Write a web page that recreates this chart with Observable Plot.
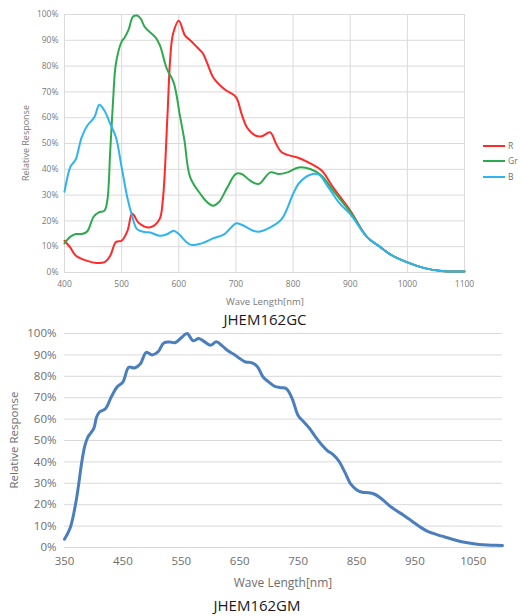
<!DOCTYPE html>
<html>
<head>
<meta charset="utf-8">
<script src="https://cdn.jsdelivr.net/npm/d3@7"></script>
<script src="https://cdn.jsdelivr.net/npm/@observablehq/plot@0.6"></script>
<style>
  html, body { margin: 0; padding: 0; background: #fff; }
  #wrap { position: relative; width: 521px; height: 616px; font-family: "Open Sans", "Liberation Sans", sans-serif; overflow: hidden; }
  .abs { position: absolute; }
  .t { position: absolute; white-space: nowrap; transform: translate(-50%, -50%); line-height: 1; }
  .leg { position: absolute; height: 2px; width: 22px; }
  .legt { position: absolute; font-size: 8.5px; color: #707070; line-height: 1; transform: translateY(-50%); }
</style>
</head>
<body>
<div id="wrap"></div>
<script>
// ---------- Top chart (JHEM162GC) data: [wavelength nm, relative response %] ----------
const seriesR = [[400,12.3],[410,9.7],[420,6.5],[440,4.5],[456,3.7],[470,4],[480,6.5],[490,11.8],[500,12.3],[510,16],[518,22.9],[522,22],[530,19.2],[550,17.5],[566,20.5],[572,28],[580,60],[585,83],[590,92.5],[600,97.6],[611,91.8],[620,90],[632,87.3],[642,85],[650,81],[660,75.7],[680,71],[700,68],[710,61.4],[720,56],[735,53],[745,52.8],[760,54.3],[770,50],[780,46.6],[800,45],[810,44.4],[830,42.3],[850,39.5],[870,33],[900,24],[930,13.6],[950,10.3],[970,7],[1000,3.9],[1030,1.7],[1060,0.6],[1100,0.4]];
const seriesGr = [[400,11.3],[410,13.8],[420,14.9],[432,15],[440,16],[451,21.6],[460,23.3],[470,24],[475,28],[480,47],[485,66.6],[490,81],[500,89.5],[505,91],[512,94],[520,99.2],[527,99.6],[533,98.5],[541,95],[559,91.2],[567,88],[579,79],[591,73.7],[602,60.8],[610,51],[620,36.9],[640,29.8],[650,27.2],[660,25.9],[670,27.2],[685,33],[700,38.2],[710,38.2],[725,35.6],[740,34.3],[760,38.8],[775,38.2],[790,38.8],[810,40.7],[830,40.1],[850,37.5],[870,31.7],[900,23.5],[930,13.6],[950,10.3],[970,7],[1000,3.9],[1030,1.7],[1060,0.6],[1100,0.4]];
const seriesB = [[400,31.3],[410,40.8],[416,42.7],[420,44],[430,52.4],[440,57],[448,59],[453,60.5],[461,65],[470,62.7],[480,57.6],[490,52.4],[500,40.8],[510,29],[518,22.2],[527,16.8],[540,15.7],[550,15.5],[567,14.2],[580,14.9],[591,16.2],[600,14.9],[620,10.8],[640,11.3],[660,13.2],[680,14.9],[700,19],[710,18.5],[730,16.2],[740,15.8],[760,17.5],[780,20.7],[800,30.4],[810,34.5],[830,37.9],[845,37.9],[860,33.6],[880,27.2],[900,22.6],[930,13.6],[950,10.3],[970,7],[1000,3.9],[1030,1.7],[1060,0.6],[1100,0.4]];
const topXTicks = [400,500,600,700,800,900,1000,1100];
const topYTicks = [0,10,20,30,40,50,60,70,80,90,100];
const legendNames = ["R","Gr","B"];
const legendColors = ["#ff2a2a","#2eaa4e","#2fb4ee"];

// ---------- Bottom chart (JHEM162GM) data ----------
const seriesM = [[350,3.9],[360,9.4],[370,21.9],[380,40.6],[385,47.7],[390,51.6],[400,55.5],[405,61],[410,63.3],[420,64.8],[430,70.3],[440,75],[450,77.3],[460,84.2],[470,83.9],[480,85.9],[490,91.2],[500,90],[510,91.4],[520,95.6],[530,96],[540,95.8],[550,98],[560,100],[570,96.6],[580,97.7],[590,96.1],[600,94.5],[610,96.1],[620,94.2],[630,91.9],[640,90.3],[650,88.3],[660,86.7],[670,86.4],[680,84.6],[690,79.7],[700,77.3],[710,75.3],[720,74.7],[730,74.2],[740,69.5],[750,61.7],[760,58.6],[770,55.5],[780,51.6],[790,48.1],[800,45.3],[810,43.4],[820,40.3],[830,35.2],[840,29.7],[850,27],[860,25.8],[870,25.6],[880,25],[890,23.4],[900,21.1],[910,18.8],[920,16.9],[930,15.2],[940,13.3],[950,11.3],[960,9.4],[970,7.8],[980,6.7],[990,5.8],[1000,5],[1020,3.4],[1040,2.2],[1060,1.4],[1080,1.1],[1100,0.9]];
const botXTicks = [350,450,550,650,750,850,950,1050];
const botYTicks = [0,10,20,30,40,50,60,70,80,90,100];

const wrap = document.getElementById("wrap");
const toObj = arr => arr.map(([w, v]) => ({w, v}));

// ---------- Top chart ----------
const topChart = Plot.plot({
  width: 521, height: 300,
  marginLeft: 64, marginRight: 57, marginTop: 14, marginBottom: 28,
  style: {fontSize: "8.5px", fontFamily: "'Open Sans', sans-serif", color: "#7a7a7a", background: "transparent", overflow: "visible"},
  x: {domain: [400, 1100]},
  y: {domain: [0, 100]},
  marks: [
    Plot.gridY(topYTicks, {stroke: "#dadada", strokeOpacity: 1, strokeWidth: 1}),
    Plot.gridX(topXTicks, {stroke: "#dadada", strokeOpacity: 1, strokeWidth: 1}),
    Plot.axisY(topYTicks, {tickSize: 0, tickPadding: 6, tickFormat: d => d + "%", label: null, fill: "#7a7a7a"}),
    Plot.axisX(topXTicks, {tickSize: 0, tickPadding: 8, tickFormat: d => String(d), label: null, fill: "#7a7a7a"}),
    Plot.line(toObj(seriesR), {x: "w", y: "v", stroke: legendColors[0], strokeWidth: 2, curve: "catmull-rom"}),
    Plot.line(toObj(seriesGr), {x: "w", y: "v", stroke: legendColors[1], strokeWidth: 2, curve: "catmull-rom"}),
    Plot.line(toObj(seriesB), {x: "w", y: "v", stroke: legendColors[2], strokeWidth: 2, curve: "catmull-rom"})
  ]
});
topChart.classList.add("abs");
topChart.style.left = "0px"; topChart.style.top = "0px";
wrap.appendChild(topChart);

// ---------- Bottom chart ----------
const botChart = Plot.plot({
  width: 521, height: 260,
  marginLeft: 64, marginRight: 19, marginTop: 13, marginBottom: 33,
  style: {fontSize: "11.5px", fontFamily: "'Open Sans', sans-serif", color: "#6e6e6e", background: "transparent", overflow: "visible"},
  x: {domain: [350, 1100]},
  y: {domain: [0, 100]},
  marks: [
    Plot.gridY(botYTicks, {stroke: "#d9d9d9", strokeOpacity: 1, strokeWidth: 1}),
    Plot.axisY(botYTicks, {tickSize: 0, tickPadding: 8, tickFormat: d => d + "%", label: null, fill: "#6e6e6e"}),
    Plot.axisX(botXTicks, {tickSize: 0, tickPadding: 9, tickFormat: d => String(d), label: null, fill: "#6e6e6e"}),
    Plot.line(toObj(seriesM), {x: "w", y: "v", stroke: "#4a7ebd", strokeWidth: 3, curve: "catmull-rom"})
  ]
});
botChart.classList.add("abs");
botChart.style.left = "0px"; botChart.style.top = "320px";
wrap.appendChild(botChart);

// ---------- Texts ----------
function addText(txt, cx, cy, size, color, rotate) {
  const d = document.createElement("div");
  d.className = "t";
  d.textContent = txt;
  d.style.left = cx + "px"; d.style.top = cy + "px";
  d.style.fontSize = size + "px"; d.style.color = color;
  if (rotate) d.style.transform = "translate(-50%, -50%) rotate(-90deg)";
  wrap.appendChild(d);
}
addText("Relative Response", 25, 143, 9, "#7a7a7a", true);
addText("Wave Length[nm]", 265, 302, 9.5, "#7a7a7a");
addText("JHEM162GC", 265, 319, 15, "#1a1a1a");
addText("Relative Response", 14, 440, 11.5, "#6e6e6e", true);
addText("Wave Length[nm]", 283, 583, 12, "#6e6e6e");
addText("JHEM162GM", 257, 605, 15, "#1a1a1a");

// ---------- Legend ----------
const legY = [146, 161, 177];
legendNames.forEach((n, i) => {
  const l = document.createElement("div");
  l.className = "leg";
  l.style.left = "483px"; l.style.top = (legY[i] - 1) + "px";
  l.style.background = legendColors[i];
  wrap.appendChild(l);
  const t = document.createElement("div");
  t.className = "legt";
  t.textContent = n;
  t.style.left = "508px"; t.style.top = legY[i] + "px";
  wrap.appendChild(t);
});
</script>
</body>
</html>
